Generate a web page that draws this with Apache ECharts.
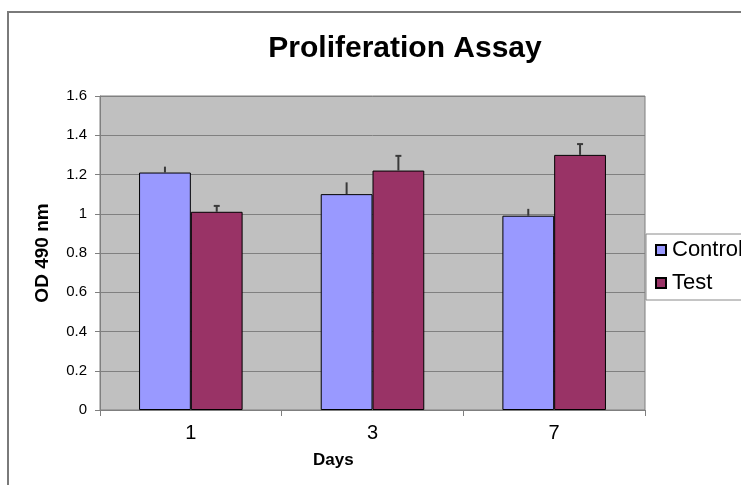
<!DOCTYPE html>
<html>
<head>
<meta charset="utf-8">
<script src="https://cdn.jsdelivr.net/npm/echarts@6/dist/echarts.min.js"></script>
<style>
  html, body { margin: 0; padding: 0; background: #fff; }
  #chart { width: 741px; height: 485px; }
</style>
</head>
<body>
<div id="chart"></div>
<script>
// Days of measurement
const days = ['1', '3', '7'];
// Mean OD at 490 nm
const controlValues = [1.21, 1.10, 0.99];
const testValues = [1.01, 1.22, 1.30];
// Standard deviations (upper error bars)
const controlErrors = [0.03, 0.06, 0.035];
const testErrors = [0.03, 0.075, 0.055];
// Y-axis range
const yMin = 0, yMax = 1.6, yStep = 0.2;

const FONT = '"Liberation Sans", Arial, sans-serif';
const BAR_FRAC = 0.285; // bar width as a fraction of the category band

function errorBars(name, values, errors, side, capWidth) {
  return {
    type: 'custom',
    name: name + ' error',
    silent: true,
    z: 10,
    data: values.map((v, i) => [i, v, v + errors[i]]),
    renderItem: function (params, api) {
      const idx = api.value(0);
      const base = api.coord([idx, api.value(1)]);
      const top = api.coord([idx, api.value(2)]);
      const band = api.size([1, 0])[0];
      const x = base[0] + side * band * BAR_FRAC / 2;
      const style = { stroke: '#3a3a3a', lineWidth: 2 };
      const children = [{
        type: 'line',
        shape: { x1: x, y1: base[1], x2: x, y2: top[1] },
        style: style
      }];
      if (capWidth > 0) {
        children.push({
          type: 'line',
          shape: { x1: x - capWidth / 2, y1: top[1], x2: x + capWidth / 2, y2: top[1] },
          style: style
        });
      }
      return { type: 'group', children: children };
    }
  };
}

const chart = echarts.init(document.getElementById('chart'), null, { renderer: 'canvas' });

chart.setOption({
  animation: false,
  backgroundColor: '#ffffff',
  textStyle: { fontFamily: FONT },
  title: {
    text: 'Proliferation Assay',
    left: 400,
    top: 29,
    textAlign: 'center',
    textStyle: { fontFamily: FONT, fontSize: 30, fontWeight: 'bold', color: '#000' }
  },
  graphic: [
    {
      type: 'rect',
      z: -10,
      shape: { x: 8, y: 12, width: 800, height: 520 },
      style: { fill: 'none', stroke: '#7a7a7a', lineWidth: 2 }
    },
    {
      type: 'text',
      left: 313,
      top: 452,
      style: { text: 'Days', font: 'bold 17px ' + FONT, fill: '#000' }
    }
  ],
  legend: {
    data: ['Control', 'Test'],
    orient: 'vertical',
    left: 646,
    top: 234,
    icon: 'rect',
    itemWidth: 10,
    itemHeight: 10,
    itemGap: 11,
    padding: [5, 40, 6, 9],
    backgroundColor: '#ffffff',
    borderColor: '#8a8a8a',
    borderWidth: 1,
    textStyle: { fontFamily: FONT, fontSize: 22, color: '#000', padding: [0, 0, 0, 1] }
  },
  grid: {
    left: 100,
    top: 96,
    right: 96,
    bottom: 75,
    show: true,
    backgroundColor: '#c0c0c0',
    borderColor: '#7f7f7f',
    borderWidth: 1
  },
  xAxis: {
    type: 'category',
    data: days,
    axisLine: { lineStyle: { color: '#7f7f7f', width: 1 } },
    axisTick: { show: true, length: 6, lineStyle: { color: '#7f7f7f' } },
    axisLabel: { fontFamily: FONT, fontSize: 20, color: '#000', margin: 13 },
    splitLine: { show: false }
  },
  yAxis: {
    type: 'value',
    min: yMin,
    max: yMax,
    interval: yStep,
    name: 'OD 490 nm',
    nameLocation: 'middle',
    nameGap: 48,
    nameTextStyle: { fontFamily: FONT, fontSize: 19, fontWeight: 'bold', color: '#000' },
    axisLine: { show: true, lineStyle: { color: '#7f7f7f', width: 1 } },
    axisTick: { show: true, length: 5, lineStyle: { color: '#7f7f7f' } },
    axisLabel: { fontFamily: FONT, fontSize: 15, color: '#000', margin: 13 },
    splitLine: { show: true, lineStyle: { color: '#808080', width: 1 } }
  },
  series: [
    {
      name: 'Control',
      type: 'bar',
      data: controlValues,
      barWidth: (BAR_FRAC * 100) + '%',
      barGap: '0%',
      itemStyle: { color: '#9999ff', borderColor: '#000', borderWidth: 1 }
    },
    {
      name: 'Test',
      type: 'bar',
      data: testValues,
      barWidth: (BAR_FRAC * 100) + '%',
      barGap: '0%',
      itemStyle: { color: '#993366', borderColor: '#000', borderWidth: 1 }
    },
    errorBars('Control', controlValues, controlErrors, -1, 0),
    errorBars('Test', testValues, testErrors, 1, 6)
  ]
});
</script>
</body>
</html>
